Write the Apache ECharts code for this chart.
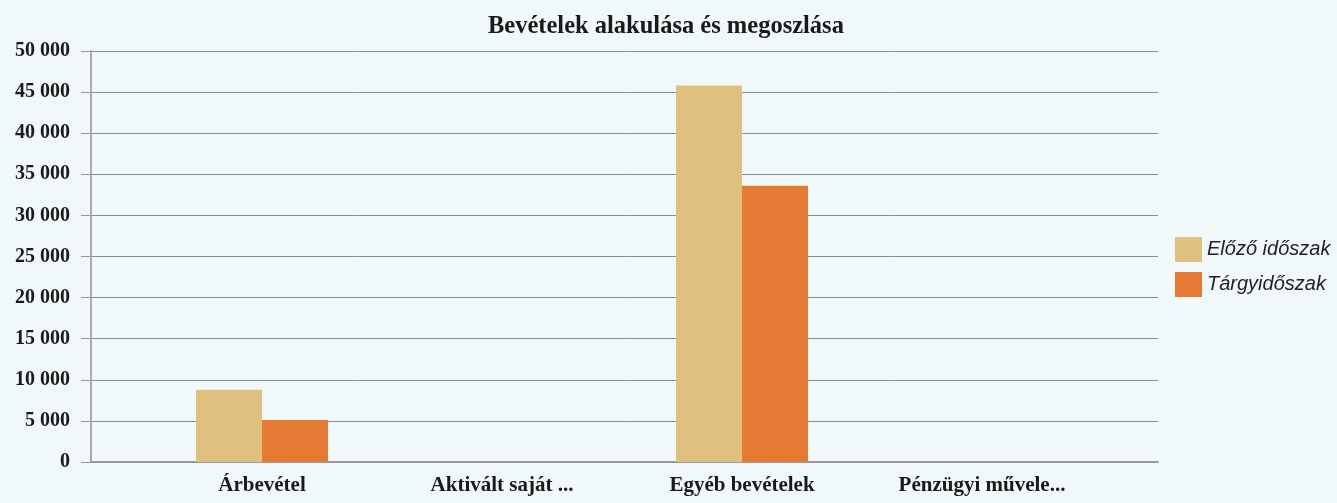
<!DOCTYPE html>
<html>
<head>
<meta charset="utf-8">
<script src="https://cdn.jsdelivr.net/npm/echarts@6/dist/echarts.min.js"></script>
<style>
	html, body { margin: 0; padding: 0; background: #f1f8fa; }
	#chart { width: 1337px; height: 503px; }
</style>
</head>
<body>
<div id="chart"></div>
<script>
	// categories and values
	var categories = ['Árbevétel', 'Aktivált saját ...', 'Egyéb bevételek', 'Pénzügyi művele...'];
	var seriesNames = ['Előző időszak', 'Tárgyidőszak'];
	var prevValues = [8800, 0, 45800, 0];
	var currValues = [5100, 0, 33600, 0];
	var yTicks = [0, 5000, 10000, 15000, 20000, 25000, 30000, 35000, 40000, 45000, 50000];

	var chart = echarts.init(document.getElementById('chart'));
	var serif = '"Liberation Serif", "DejaVu Serif", serif';

	function spaced(v) {
		return String(v).replace(/\B(?=(\d{3})+(?!\d))/g, ' ');
	}

	var option = {
		backgroundColor: '#f1f8fa',
		animation: false,
		color: ['#dfc07f', '#e57a35'],
		title: {
			text: 'Bevételek alakulása és megoszlása',
			left: 483,
			top: 9,
			textStyle: { fontFamily: serif, fontWeight: 'bold', fontSize: 24.5, color: '#1a1a1a' }
		},
		legend: {
			orient: 'vertical',
			left: 1175,
			top: 237,
			padding: 0,
			itemWidth: 27,
			itemHeight: 25,
			itemGap: 10,
			icon: 'rect',
			data: seriesNames,
			textStyle: { fontFamily: '"Liberation Sans", Arial, sans-serif', fontStyle: 'italic', fontSize: 20, color: '#222' }
		},
		grid: [
			// frame with gridlines
			{ left: 91, right: 179, top: 51, bottom: 41 },
			// bars
			{ left: 142, right: 235, top: 51, bottom: 41 }
		],
		xAxis: [{
			gridIndex: 0,
			type: 'category',
			data: categories,
			axisLabel: { show: false },
			axisTick: { show: false },
			axisLine: { lineStyle: { color: '#999', width: 2 } }
		}, {
			gridIndex: 1,
			type: 'category',
			data: categories,
			axisLine: { show: false },
			axisTick: { show: false },
			axisLabel: {
				margin: 13,
				interval: 0,
				fontFamily: serif,
				fontWeight: 'bold',
				fontSize: 21,
				color: '#1a1a1a'
			}
		}],
		yAxis: [{
			gridIndex: 0,
			type: 'value',
			min: yTicks[0],
			max: yTicks[yTicks.length - 1],
			interval: yTicks[1] - yTicks[0],
			axisLine: { show: true, lineStyle: { color: '#aaa', width: 2 } },
			axisTick: { show: true, length: 10, lineStyle: { color: '#999' } },
			splitLine: { lineStyle: { color: '#8c8c8c', width: 1 } },
			axisLabel: {
				margin: 21,
				formatter: spaced,
				fontFamily: serif,
				fontWeight: 'bold',
				fontSize: 20,
				color: '#1a1a1a'
			}
		}, {
			gridIndex: 1,
			type: 'value',
			min: yTicks[0],
			max: yTicks[yTicks.length - 1],
			show: false
		}],
		series: [{
			name: seriesNames[0],
			type: 'bar',
			xAxisIndex: 1,
			yAxisIndex: 1,
			barWidth: 66,
			barGap: '0%',
			data: prevValues
		}, {
			name: seriesNames[1],
			type: 'bar',
			xAxisIndex: 1,
			yAxisIndex: 1,
			barWidth: 66,
			barGap: '0%',
			data: currValues
		}]
	};
	chart.setOption(option);

	window.onresize = function () {
		chart.resize();
	};
</script>
</body>
</html>
